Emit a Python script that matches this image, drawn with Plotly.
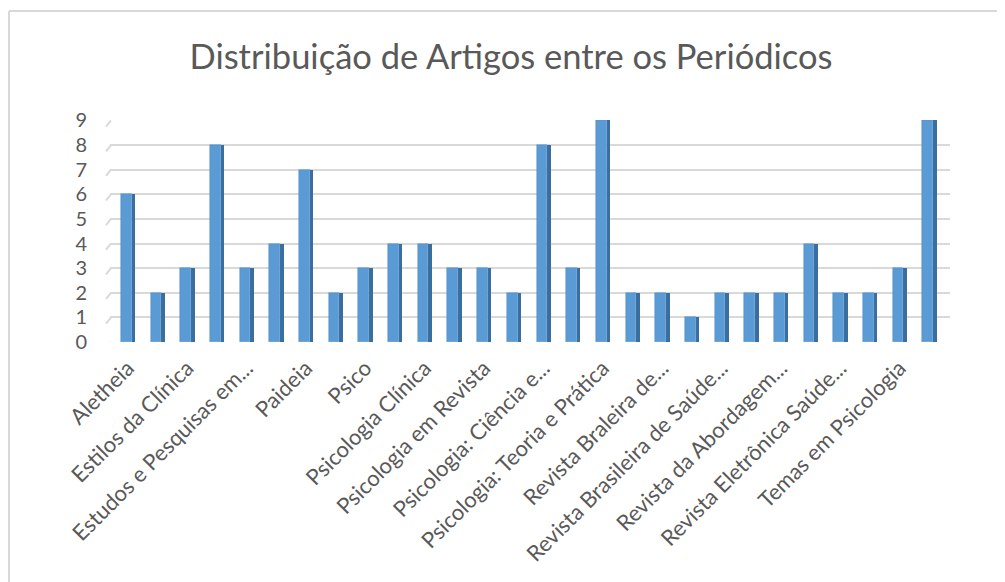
import plotly.graph_objects as go

title = "Distribuição de Artigos entre os Periódicos"
values = [6, 2, 3, 8, 3, 4, 7, 2, 3, 4, 4, 3, 3, 2, 8, 3, 9, 2, 2, 1, 2, 2, 2, 4, 2, 2, 3, 9]
tick_labels = [
    "Aletheia", "Estilos da Clínica", "Estudos e Pesquisas em...", "Paideia", "Psico",
    "Psicologia Clínica", "Psicologia em Revista", "Psicologia: Ciência e...",
    "Psicologia: Teoria e Prática", "Revista Braleira de...", "Revista Brasileira de Saúde...",
    "Revista da Abordagem...", "Revista Eletrônica Saúde...", "Temas em Psicologia",
]
y_ticks = list(range(0, 10))

# page body has an 8px margin, so the figure is drawn at (8, 8)
OFF = 8
W, H = 1005 - OFF, 582 - OFF
ML, MR, MT, MB = 110 - OFF, W - (950 - OFF), 120 - OFF, H - (342 - OFF)
FONT = "Lato, Open Sans, sans-serif"

x = list(range(len(values)))
tick_pos = x[::2]

fig = go.Figure()
# darker side face (3D look)
fig.add_trace(go.Bar(
    x=x, y=values, width=0.12, offset=0.13,
    marker=dict(color="#3A6E9E", line=dict(width=0)), hoverinfo="skip", showlegend=False,
))
# front face
fig.add_trace(go.Bar(
    x=x, y=values, width=0.36, offset=-0.23,
    marker=dict(color="#5B9BD5", line=dict(color="#4F8CC4", width=0.5)), showlegend=False,
))

pw = W - ML - MR
ph = H - MT - MB
def px2x(p):
    return (p - OFF - ML) / pw
def py2y(p):
    return 1 - (p - OFF - MT) / ph

fig.update_layout(
    width=W, height=H,
    margin=dict(l=ML, r=MR, t=MT, b=MB),
    paper_bgcolor="white", plot_bgcolor="white",
    barmode="overlay", bargap=0,
    font=dict(family=FONT, color="#595959"),
    title=dict(text=title, x=px2x(511), xref="paper", xanchor="center",
               y=1 - (57 - OFF) / H, yanchor="middle",
               font=dict(size=34.5, color="#595959", family=FONT)),
    xaxis=dict(
        range=[-0.6, len(values) - 0.3], tickmode="array", tickvals=tick_pos,
        ticktext=tick_labels, tickangle=-45, tickfont=dict(size=22, color="#595959"),
        showgrid=False, zeroline=False, showline=False, ticks="", ticklabelstandoff=8,
    ),
    yaxis=dict(
        range=[0, 9.02], tickmode="array", tickvals=y_ticks,
        tickfont=dict(size=20, color="#595959"),
        showgrid=True, gridcolor="#D9D9D9", gridwidth=2, zeroline=False,
        showline=False, ticks="", ticklabelstandoff=22,
    ),
    shapes=[
        dict(type="line", xref="paper", yref="paper", x0=px2x(9), x1=px2x(1010),
             y0=py2y(11), y1=py2y(11), line=dict(color="#D9D9D9", width=2)),
        dict(type="line", xref="paper", yref="paper", x0=px2x(9), x1=px2x(9),
             y0=py2y(11), y1=py2y(600), line=dict(color="#D9D9D9", width=2)),
    ] + [
        dict(type="line", xref="paper", yref="y", x0=px2x(106), x1=px2x(111),
             y0=v - 0.25, y1=v, line=dict(color="#D9D9D9", width=2))
        for v in y_ticks
    ],
)

fig.write_html("out.html")
